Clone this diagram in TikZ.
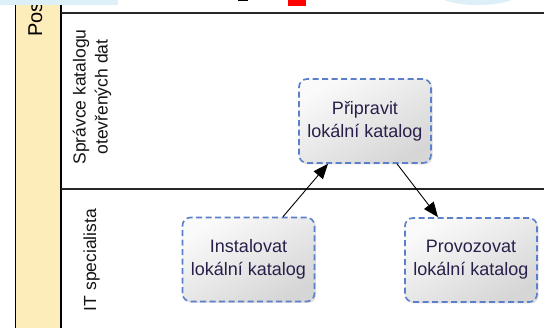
\documentclass[tikz,border=0pt]{standalone}
\usepackage{fontspec}
\setmainfont{Liberation Sans}
\usetikzlibrary{arrows.meta,shadows}
\definecolor{poolyellow}{HTML}{FDEDBA}
\definecolor{taskblue}{HTML}{5B7FCB}
\definecolor{tasktext}{HTML}{2A1F4A}
\definecolor{fragblue}{HTML}{DDEFF7}
\tikzset{
  taskbox/.style={draw=taskblue, line width=1.6pt, dash pattern=on 6pt off 3.5pt,
    rounded corners=8pt, minimum width=132pt, minimum height=84pt,
    top color=white!96!gray, bottom color=black!16, shading angle=30,
    drop shadow={shadow xshift=1.5pt, shadow yshift=-1.5pt, opacity=0.25},
    align=center, font=\fontsize{18}{23}\selectfont, text=tasktext, inner sep=0pt},
  lanelabel/.style={rotate=90, align=center, font=\fontsize{17.5}{22}\selectfont, text=black!92},
  laneline/.style={line width=1.8pt, draw=black!85},
  flow/.style={line width=0.9pt, -{Triangle[length=15pt,width=12pt]}}
}
\begin{document}
\begin{tikzpicture}[x=1pt,y=-1pt]
\useasboundingbox (0,0) rectangle (544,328);
\clip (0,0) rectangle (544,328);
\fill[white] (0,0) rectangle (544,328);
% pool header
\fill[poolyellow] (15,0) rectangle (61,330);
\draw[line width=0.9pt] (15,0) -- (15,330);
\draw[line width=1.2pt] (61,5) -- (61,330);
\node[rotate=90, anchor=base west, font=\fontsize{20}{24}\selectfont, inner sep=0pt] (pool) at (42,37) {Pos};
% cut-off fragments at the top
\fill[fragblue] (0,-5) rectangle (118,5);
\fill[fragblue] (478,-6) ellipse (40pt and 11pt);
\fill[red] (288,-1) rectangle (306,6);
\fill[black] (238,-1) rectangle (248,1);
% lanes
\draw[laneline] (61,13) -- (546,13);
\draw[laneline] (61,189) -- (546,189);
\node[lanelabel] (lane1) at (92,97) {Správce katalogu\\otevřených dat};
\node[lanelabel] (lane2) at (91.5,260) {IT specialista};
% tasks
\node[taskbox] (prip) at (365,121) {Připravit\\lokální katalog};
\node[taskbox] (inst) at (248.5,259.5) {Instalovat\\lokální katalog};
\node[taskbox] (prov) at (471,260) {Provozovat\\lokální katalog};
% flows
\draw[flow] ([xshift=34.5pt]inst.north) -- ([xshift=-37pt]prip.south);
\draw[flow] ([xshift=32pt]prip.south) -- ([xshift=-33pt]prov.north);
\end{tikzpicture}
\end{document}
